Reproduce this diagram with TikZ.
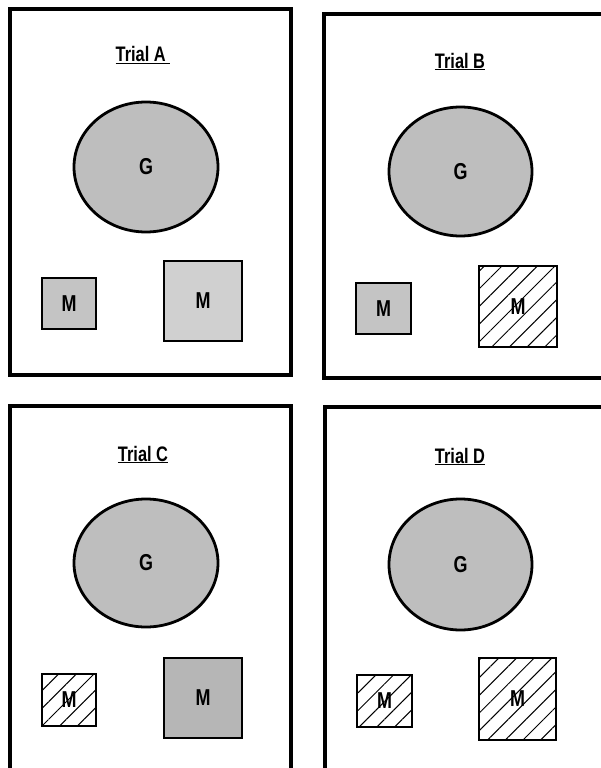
\documentclass[tikz,border=0pt]{standalone}
\usepackage{fontspec}
\setmainfont{Liberation Sans}
\newfontfamily\narrowfont[FakeStretch=0.78]{Liberation Sans}
\usepackage{xcolor}
\usetikzlibrary{shapes.geometric}
\usetikzlibrary{patterns.meta}
\definecolor{glandgray}{RGB}{190,190,190}
\definecolor{midgray}{RGB}{196,196,196}
\definecolor{lightgray2}{RGB}{208,208,208}
\definecolor{darkgray2}{RGB}{182,182,182}

\tikzset{
  frame/.style={line width=3.2pt},
  trial/.style={anchor=base, font=\narrowfont\bfseries\fontsize{21}{24}\selectfont},
  gland/.style={ellipse, draw, line width=2.8pt, fill=glandgray, inner sep=0pt,
    font=\narrowfont\bfseries\fontsize{23}{26}\selectfont},
  mbox/.style={rectangle, draw, line width=2.3pt, inner sep=0pt,
    font=\narrowfont\bfseries\fontsize{23}{26}\selectfont},
  hatched/.style={pattern={Lines[angle=45,distance=12.5pt,line width=1pt]}}
}

\begin{document}
\begin{tikzpicture}[x=1pt,y=-1pt]
  \useasboundingbox (0,0) rectangle (600,768);

  % panel frames
  \draw[frame] (10,9) rectangle (291,375);
  \draw[frame] (324,14) rectangle (612,378);
  \draw[frame] (10,406) rectangle (291,780);
  \draw[frame] (325,407) rectangle (612,780);

  % Trial A
  \node[trial] (titleA) at (143,62) {\underline{Trial A~}};
  \node[gland, minimum width=144pt, minimum height=130pt] (gA) at (146,167) {G};
  \node[mbox, fill=midgray, minimum width=54pt, minimum height=51pt] (msA) at (69,303.5) {M};
  \node[mbox, fill=lightgray2, minimum width=78pt, minimum height=80pt] (mbA) at (203,301) {M};

  % Trial B
  \node[trial] (titleB) at (460,68) {\underline{Trial B}};
  \node[gland, minimum width=143pt, minimum height=129pt] (gB) at (460.5,171.5) {G};
  \node[mbox, fill=midgray, minimum width=55pt, minimum height=51pt] (msB) at (383.5,308.5) {M};
  \node[mbox, hatched, minimum width=78pt, minimum height=81pt] (mbB) at (518,306.5) {M};

  % Trial C
  \node[trial] (titleC) at (143,461) {\underline{Trial C}};
  \node[gland, minimum width=144pt, minimum height=128pt] (gC) at (146,563) {G};
  \node[mbox, hatched, minimum width=54pt, minimum height=52pt] (msC) at (69,700) {M};
  \node[mbox, fill=darkgray2, minimum width=78pt, minimum height=80pt] (mbC) at (203,698) {M};

  % Trial D
  \node[trial] (titleD) at (460,463) {\underline{Trial D}};
  \node[gland, minimum width=143pt, minimum height=131pt] (gD) at (460.5,564.5) {G};
  \node[mbox, hatched, minimum width=55pt, minimum height=52pt] (msD) at (384.5,701) {M};
  \node[mbox, hatched, minimum width=77pt, minimum height=82pt] (mbD) at (517.5,699) {M};
\end{tikzpicture}
\end{document}
